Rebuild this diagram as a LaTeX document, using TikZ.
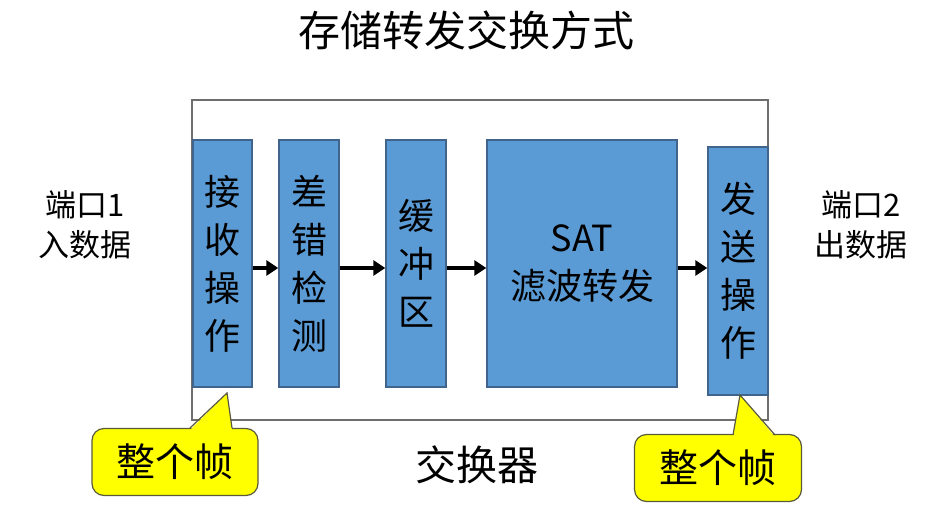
\documentclass[tikz,border=0pt]{standalone}
\usepackage{fontspec}
\setmainfont{Noto Sans CJK SC}
\usepackage{xcolor}
\usepackage{tikz}
\usetikzlibrary{arrows.meta, positioning, calc}
\definecolor{blockblue}{RGB}{91, 155, 213}
\definecolor{blockedge}{RGB}{65, 100, 140}
\definecolor{frameedge}{RGB}{110, 110, 110}
\definecolor{calloutyellow}{RGB}{255, 255, 0}
\definecolor{calloutedge}{RGB}{90, 90, 60}
\tikzstyle{block} = [rectangle, draw=blockedge, fill=blockblue, line width=1.5pt, minimum width=60pt, minimum height=247pt, align=center, inner sep=0pt, font=\fontsize{36}{48}\selectfont]
\tikzstyle{frame} = [rectangle, draw=frameedge, line width=1.3pt, minimum width=576pt, minimum height=320pt]
\tikzstyle{callout} = [rectangle, rounded corners=12pt, draw=calloutedge, fill=calloutyellow, line width=1.2pt, font=\fontsize{39}{42}\selectfont]
\tikzstyle{arrow} = [-{Triangle[length=12pt, width=15pt]}, line width=4pt]

\begin{document}
\begin{tikzpicture}[x=1pt, y=-1pt]
    \useasboundingbox (0, 0) rectangle (952, 510);

    % Title
    \node[font=\fontsize{42}{46}\selectfont] (title) at (466, 30) {存储转发交换方式};

    % Switch frame
    \node[frame] (switch) at (480, 260) {};
    \node[font=\fontsize{41}{44}\selectfont] (switchname) at (477, 465) {交换器};

    % Processing stages
    \node[block, minimum width=59pt] (recv) at (222.5, 263.5) {接\\收\\操\\作};
    \node[block] (check) at (309, 263.5) {差\\错\\检\\测};
    \node[block] (buffer) at (416, 263.5) {缓\\冲\\区};
    \node[block, minimum width=190pt] (sat) at (582, 263.5) {SAT\\滤波转发};
    \node[block, minimum height=248pt] (send) at (738, 271) {发\\送\\操\\作};

    % Arrows between stages
    \draw[arrow] ([yshift=-4.5pt]recv.east) -- ([yshift=-4.5pt]check.west);
    \draw[arrow] ([yshift=-4.5pt]check.east) -- ([yshift=-4.5pt]buffer.west);
    \draw[arrow] ([yshift=-4.5pt]buffer.east) -- ([yshift=-4.5pt]sat.west);
    \draw[arrow] ([yshift=-4.5pt]sat.east) -- ([yshift=-4.5pt]sat.east -| send.west);

    % Ports
    \node[align=center, font=\fontsize{31}{40}\selectfont] (inport) at (85, 225) {端口1\\入数据};
    \node[align=center, font=\fontsize{31}{40}\selectfont] (outport) at (861, 225) {端口2\\出数据};

    % Left callout
    \node[callout, minimum width=166pt, minimum height=67pt] (lcall) at (175, 462) {整个帧};
    \coordinate (ltip) at (227, 393);
    \coordinate (lbaseA) at (190, 428);
    \coordinate (lbaseB) at (232, 428);
    \fill[calloutyellow] ([yshift=-2pt]lbaseA) -- (ltip) -- ([yshift=-2pt]lbaseB) -- cycle;
    \draw[calloutedge, line width=1.2pt] (lbaseA) -- (ltip) -- (lbaseB);

    % Right callout
    \node[callout, minimum width=167pt, minimum height=67pt] (rcall) at (718, 468) {整个帧};
    \coordinate (rtip) at (740, 395);
    \coordinate (rbaseA) at (733, 435);
    \coordinate (rbaseB) at (775, 435);
    \fill[calloutyellow] ([yshift=-2pt]rbaseA) -- (rtip) -- ([yshift=-2pt]rbaseB) -- cycle;
    \draw[calloutedge, line width=1.2pt] (rbaseA) -- (rtip) -- (rbaseB);
\end{tikzpicture}
\end{document}
